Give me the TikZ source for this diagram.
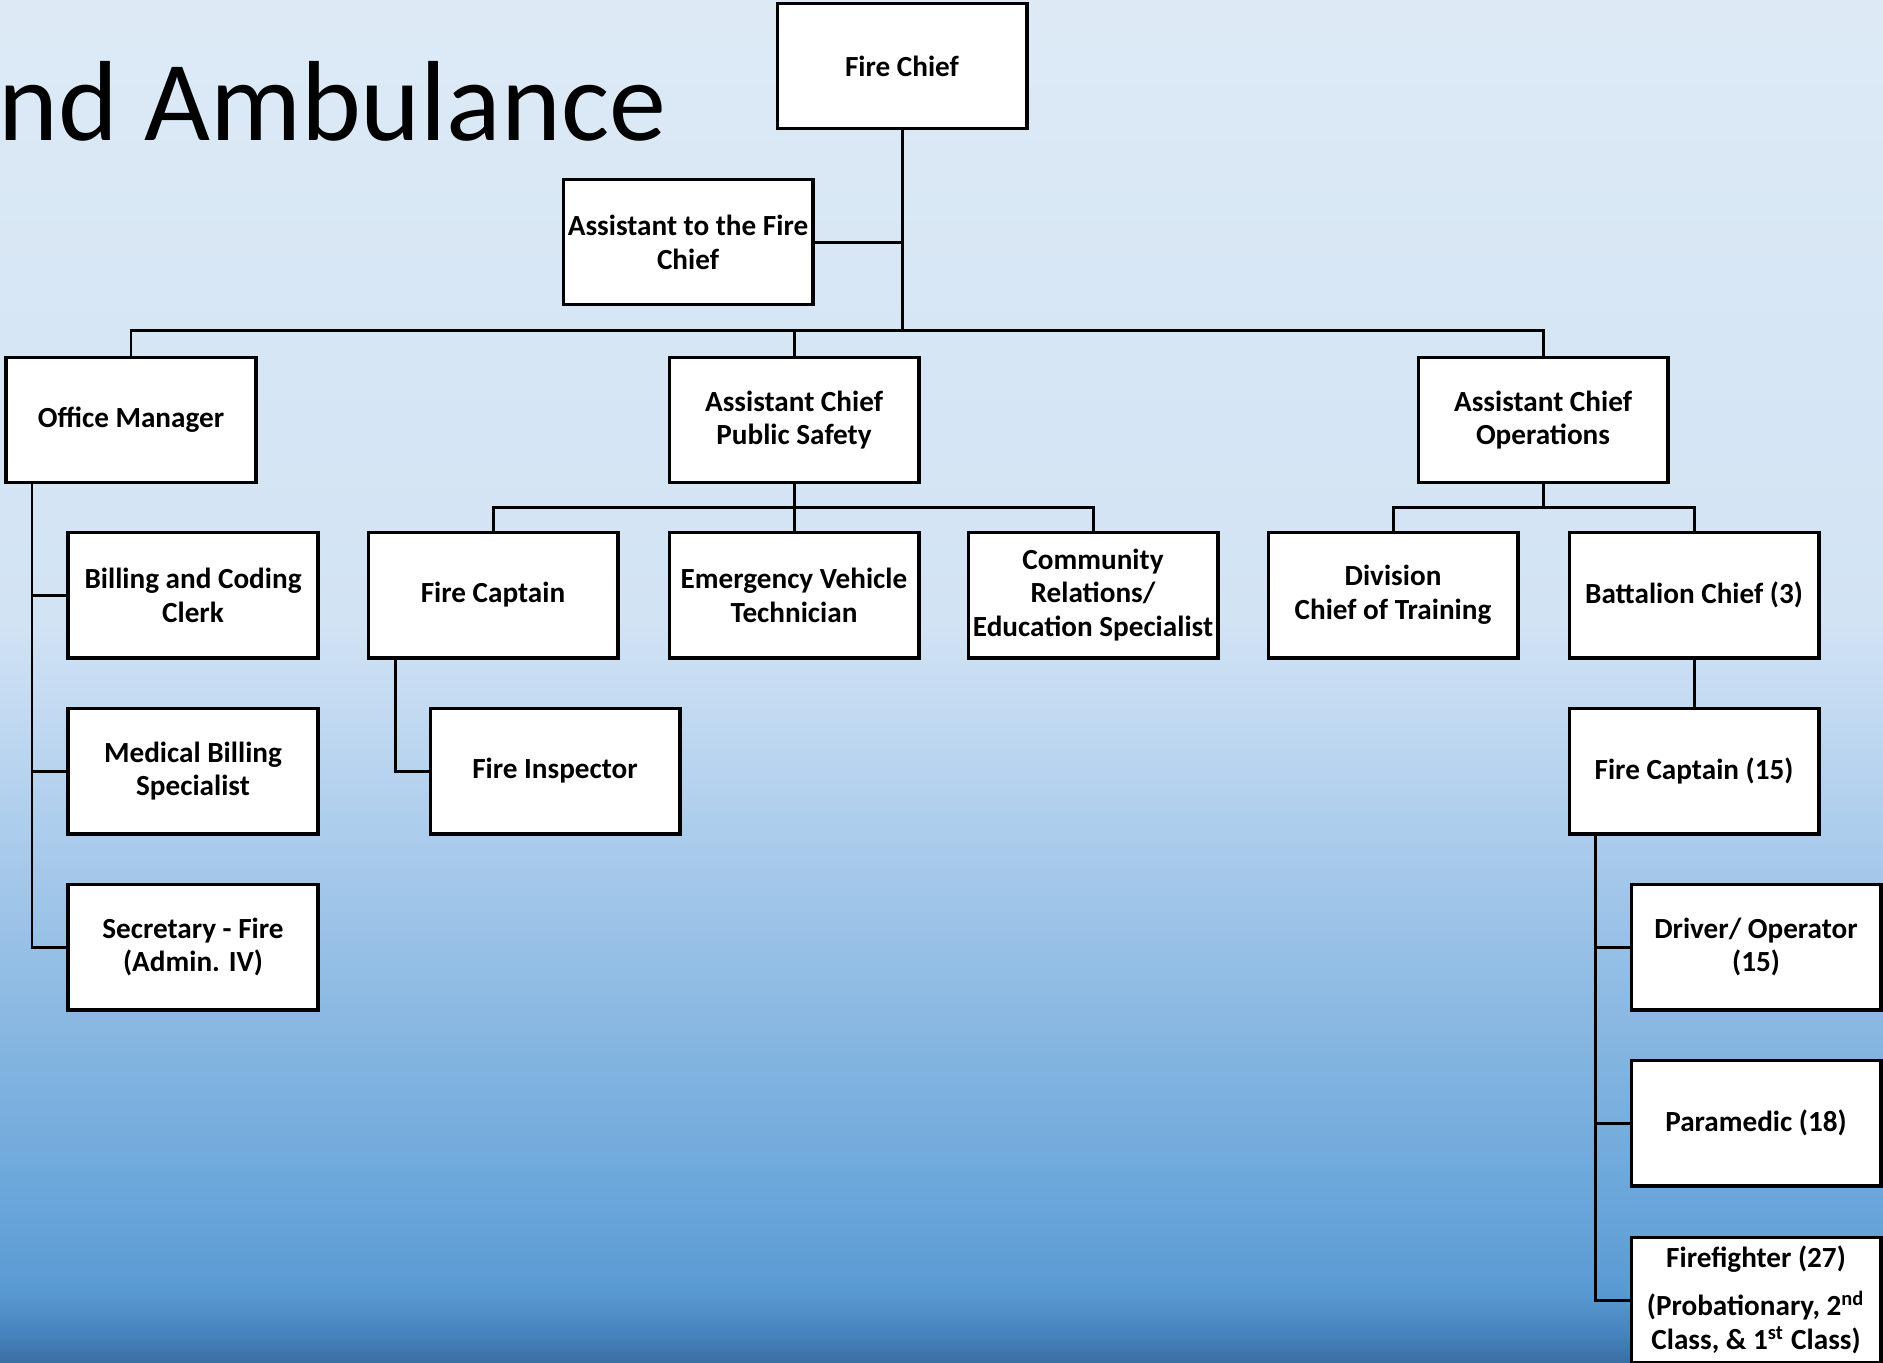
\documentclass[tikz,border=0pt]{standalone}
\usepackage{fontspec}
\setmainfont{Carlito}
\usepackage{tikz}
\usetikzlibrary{calc}

\definecolor{bgtop}{HTML}{DDEAF6}
\definecolor{bgmid}{HTML}{D2E3F4}
\definecolor{bgb}{HTML}{B2D0EE}
\definecolor{bgc}{HTML}{8DBAE3}
\definecolor{bgd}{HTML}{6AA6DA}
\definecolor{bge}{HTML}{5A9AD3}
\definecolor{bgf}{HTML}{4682BD}
\definecolor{bgbot}{HTML}{3A6FA3}

\pgfdeclareverticalshading{slidebg}{100bp}{
  color(0bp)=(bgbot); color(25bp)=(bgbot); color(25.99bp)=(bgf);
  color(27.64bp)=(bge); color(30.95bp)=(bgd); color(38.3bp)=(bgc);
  color(45.6bp)=(bgb); color(52.2bp)=(bgmid); color(75bp)=(bgtop);
  color(100bp)=(bgtop)}

\begin{document}
\begin{tikzpicture}[x = 0.01cm, y = -0.01cm]
  \tikzset{
    post/.style = {draw = black, line width = 1.1pt, fill = white, minimum width = 2.49cm,
      minimum height = 1.25cm, align = center, inner sep = 1pt,
      font = \fontsize{8.3}{9.6}\selectfont\bfseries},
    link/.style = {line width = 0.85pt}
  }

  \useasboundingbox (0,0) rectangle (1883,1362);
  \shade[shading = slidebg] (0,0) rectangle (1883,1362);

  \node[anchor = base west, inner sep = 0pt, font = \fontsize{32.4}{40}\selectfont] (title) at (-2,140) {nd Ambulance};

  \node[post] (chief) at (902,66) {Fire Chief};
  \node[post] (asst) at (688,242) {Assistant to the Fire\\Chief};

  \node[post] (office) at (131,420) {Office Manager};
  \node[post] (acps) at (794,420) {Assistant Chief\\Public Safety};
  \node[post] (acops) at (1543,420) {Assistant Chief\\Operations};

  \node[post] (billing) at (193,595) {Billing and Coding\\Clerk};
  \node[post] (captain) at (493,595) {Fire Captain};
  \node[post] (evt) at (794,595) {Emergency Vehicle\\Technician};
  \node[post] (community) at (1093,595) {Community\\Relations/\\Education Specialist};
  \node[post] (division) at (1393,595) {Division\\Chief of Training};
  \node[post] (battalion) at (1694,595) {Battalion Chief (3)};

  \node[post] (medical) at (193,771) {Medical Billing\\Specialist};
  \node[post] (inspector) at (555,771) {Fire Inspector};
  \node[post] (captainB) at (1694,771) {Fire Captain (15)};

  \node[post] (secretary) at (193,947) {Secretary - Fire\\(Admin. IV)};
  \node[post] (driver) at (1756,947) {Driver/ Operator\\(15)};
  \node[post] (paramedic) at (1756,1123) {Paramedic (18)};
  \node[post] (firefighter) at (1756,1300) {Firefighter (27)\\[4pt](Probationary, 2\textsuperscript{nd}\\Class, \& 1\textsuperscript{st} Class)};

  % top levels
  \coordinate (hub) at (902,330);
  \coordinate (psbus) at (794,507);
  \coordinate (opsbus) at (1543,507);
  \draw[link] (chief) -- (hub);
  \draw[link] (asst.east) -- (asst.east -| hub);
  \draw[link] (office.north) |- (hub) -| (acops.north);
  \draw[link] (acps.north) -- (acps.north |- hub);

  \draw[link] (acps.south) -- (evt.north);
  \draw[link] (captain.north) |- (psbus) -| (community.north);
  \draw[link] (acops.south) -- (opsbus);
  \draw[link] (division.north) |- (opsbus) -| (battalion.north);
  \draw[link] (battalion) -- (captainB);

  % side branches
  \coordinate (omtop) at (office.south west -| 32,0);
  \coordinate (fctop) at (captain.south west -| 395,0);
  \coordinate (cbtop) at (captainB.south west -| 1595,0);
  \draw[link] (omtop) |- (secretary.west);
  \draw[link] (billing.west) -- (billing.west -| omtop);
  \draw[link] (medical.west) -- (medical.west -| omtop);
  \draw[link] (fctop) |- (inspector.west);
  \draw[link] (cbtop) |- (firefighter.west);
  \draw[link] (driver.west) -- (driver.west -| cbtop);
  \draw[link] (paramedic.west) -- (paramedic.west -| cbtop);
\end{tikzpicture}
\end{document}
